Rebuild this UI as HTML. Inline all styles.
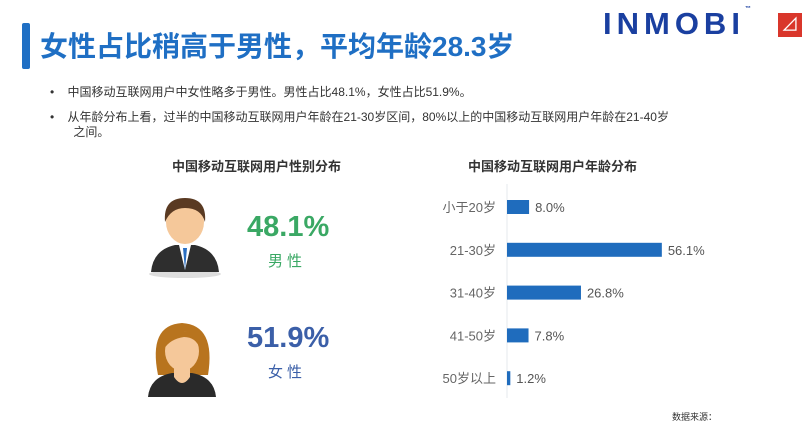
<!DOCTYPE html>
<html><head><meta charset="utf-8"><style>
body{margin:0;width:812px;height:418px;background:#fff;overflow:hidden;position:relative;font-family:"Liberation Sans","Noto Sans CJK SC",sans-serif}
.a{position:absolute;white-space:nowrap}
</style></head><body>
<div class="a" style="left:22px;top:23px;width:8px;height:46px;background:#1f6fc4;border-radius:2px"></div>
<div class="a" style="left:40px;top:25px;font-size:28px;font-weight:bold;color:#1f6fc4">女性占比稍高于男性，平均年龄28.3岁</div>
<div class="a" style="left:603px;top:6px;font-size:31px;font-weight:bold;color:#1a3fa0;letter-spacing:5px">INMOBI<span style="font-size:6px;vertical-align:top;letter-spacing:0">™</span></div>
<div class="a" style="left:778px;top:13px;width:24px;height:24px;background:#d9362b;color:#fff;font-size:18px;text-align:center;line-height:24px">⊿</div>
<div class="a" style="left:50px;top:83px;font-size:12px;color:#333">•&nbsp;&nbsp;&nbsp;&nbsp;中国移动互联网用户中女性略多于男性。男性占比48.1%，女性占比51.9%。</div>
<div class="a" style="left:50px;top:110px;font-size:12px;color:#333;line-height:15px">•&nbsp;&nbsp;&nbsp;&nbsp;从年龄分布上看，过半的中国移动互联网用户年龄在21-30岁区间，80%以上的中国移动互联网用户年龄在21-40岁<br>&nbsp;&nbsp;&nbsp;&nbsp;&nbsp;&nbsp;&nbsp;之间。</div>
<div class="a" style="left:172px;top:156px;font-size:13px;font-weight:bold;color:#333">中国移动互联网用户性别分布</div>
<div class="a" style="left:468px;top:156px;font-size:13px;font-weight:bold;color:#333">中国移动互联网用户年龄分布</div>
<svg class="a" style="left:145px;top:190px" width="80" height="90">
<ellipse cx="40" cy="84" rx="36" ry="4" fill="#ddd"/>
<path d="M6 82 Q8 60 30 55 L50 55 Q72 60 74 82 Z" fill="#2e2e2e"/>
<path d="M34 55 L40 80 L46 55 Z" fill="#fff"/><path d="M38 58 L40 80 L42 58Z" fill="#2a6fc2"/>
<ellipse cx="40" cy="32" rx="19" ry="22" fill="#f5c89a"/>
<path d="M20 32 Q18 8 40 8 Q62 8 60 32 Q56 18 40 18 Q26 18 20 32Z" fill="#5a3a22"/>
</svg>
<svg class="a" style="left:140px;top:305px" width="85" height="95">
<path d="M18 70 Q8 20 42 18 Q76 20 68 70 Z" fill="#b8741e"/>
<path d="M8 92 Q10 72 32 68 L52 68 Q74 72 76 92 Z" fill="#2a2a2a"/>
<path d="M34 60 L34 72 Q42 84 50 72 L50 60Z" fill="#f5c89a"/>
<ellipse cx="42" cy="46" rx="17" ry="20" fill="#f5c89a"/>
<path d="M24 44 Q26 24 44 26 Q58 28 60 44 Q56 32 44 32 Q30 34 24 44Z" fill="#b8741e"/>
</svg>
<div class="a" style="left:247px;top:211px;font-size:29px;font-weight:bold;color:#3aa864">48.1%</div>
<div class="a" style="left:268px;top:250px;font-size:15px;color:#3aa864;letter-spacing:4px">男性</div>
<div class="a" style="left:247px;top:322px;font-size:29px;font-weight:bold;color:#3b5fa8">51.9%</div>
<div class="a" style="left:268px;top:361px;font-size:15px;color:#3b5fa8;letter-spacing:4px">女性</div>
<svg class="a" id="age" style="left:0;top:0" width="812" height="418"></svg>
<div class="a" style="left:672px;top:410px;font-size:9px;color:#333">数据来源：</div>
<script>
const categories=["小于20岁","21-30岁","31-40岁","41-50岁","50岁以上"];
const values=[8.0,56.1,26.8,7.8,1.2];
const labels=["8.0%","56.1%","26.8%","7.8%","1.2%"];
const svg=document.getElementById('age'),NS="http://www.w3.org/2000/svg";
const x0=507,pxPer=2.76,y0=207,step=42.8,bh=14;
const xs=v=>x0+v*pxPer, ys=i=>y0+i*step;
function mk(t,a){const e=document.createElementNS(NS,t);for(const k in a)e.setAttribute(k,a[k]);svg.appendChild(e);return e;}
const ax=mk('line',{x1:x0,x2:x0,y1:184,y2:398,stroke:'#e4e8ee','stroke-width':1});


categories.forEach((c,i)=>{
 const r=mk('rect',{x:x0,y:ys(i)-bh/2,width:Math.max(xs(values[i])-x0,0),height:bh,fill:'#1f6cbd'});
 
 
 const t=mk('text',{x:496,y:ys(i)+5,'text-anchor':'end','font-size':13,fill:'#666'});t.textContent=c;
 
 
 const v=mk('text',{x:xs(values[i])+6,y:ys(i)+5,'font-size':13,fill:'#555'});v.textContent=labels[i];
 
 
});
</script>
</body></html>
